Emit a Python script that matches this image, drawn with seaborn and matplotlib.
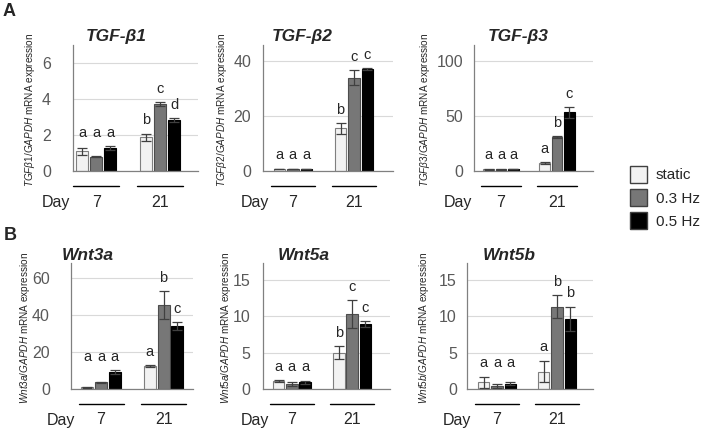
import numpy as np
import pandas as pd
import matplotlib
matplotlib.use("Agg")
import matplotlib.pyplot as plt
import seaborn as sns
from matplotlib.patches import Patch
from matplotlib.transforms import blended_transform_factory

# Data (day-major order: day 7 static, 0.3 Hz, 0.5 Hz, then day 21)
days = ["7", "21"]
conditions = ["static", "0.3 Hz", "0.5 Hz"]

tgfb1_mean = [1.1, 0.8, 1.27, 1.87, 3.73, 2.84]
tgfb1_err = [0.2, 0.03, 0.13, 0.2, 0.1, 0.1]
tgfb1_letters = ["a", "a", "a", "b", "c", "d"]

tgfb2_mean = [0.8, 0.8, 0.8, 15.6, 34.1, 37.3]
tgfb2_err = [0.1, 0.1, 0.1, 2.0, 2.7, 0.3]
tgfb2_letters = ["a", "a", "a", "b", "c", "c"]

tgfb3_mean = [1.5, 1.5, 1.8, 7.0, 31.0, 53.4]
tgfb3_err = [0.2, 0.2, 0.3, 1.0, 1.0, 5.0]
tgfb3_letters = ["a", "a", "a", "a", "b", "c"]

wnt3a_mean = [1.0, 3.6, 9.3, 12.3, 45.4, 34.1]
wnt3a_err = [0.3, 0.3, 1.0, 0.5, 7.6, 2.0]
wnt3a_letters = ["a", "a", "a", "a", "b", "c"]

wnt5a_mean = [1.1, 0.7, 0.9, 5.0, 10.3, 8.9]
wnt5a_err = [0.1, 0.25, 0.2, 0.9, 1.9, 0.45]
wnt5a_letters = ["a", "a", "a", "b", "c", "c"]

wnt5b_mean = [0.9, 0.45, 0.73, 2.4, 11.3, 9.6]
wnt5b_err = [0.8, 0.25, 0.2, 1.5, 1.6, 1.7]
wnt5b_letters = ["a", "a", "a", "a", "b", "b"]

titles = ["TGF-β1", "TGF-β2", "TGF-β3", "Wnt3a", "Wnt5a", "Wnt5b"]
label_genes = ["TGFβ1", "TGFβ2", "TGFβ3", "Wnt3a", "Wnt5a", "Wnt5b"]
yticks_list = [[0, 2, 4, 6], [0, 20, 40], [0, 50, 100],
               [0, 20, 40, 60], [0, 5, 10, 15], [0, 5, 10, 15]]
ymax_list = [7, 46, 115, 68, 17.3, 17.3]

means = [tgfb1_mean, tgfb2_mean, tgfb3_mean, wnt3a_mean, wnt5a_mean, wnt5b_mean]
errs = [tgfb1_err, tgfb2_err, tgfb3_err, wnt3a_err, wnt5a_err, wnt5b_err]
letters = [tgfb1_letters, tgfb2_letters, tgfb3_letters,
           wnt3a_letters, wnt5a_letters, wnt5b_letters]

fill_colors = ["#f2f2f2", "#777777", "#000000"]
edge_colors = ["#7f7f7f", "#4d4d4d", "#000000"]

sns.set_style("white")
plt.rcParams["font.family"] = ["Liberation Sans", "DejaVu Sans"]
plt.rcParams["mathtext.fontset"] = "custom"
plt.rcParams["mathtext.it"] = "Liberation Sans:italic"
plt.rcParams["mathtext.rm"] = "Liberation Sans"

W, H = 708, 429
fig = plt.figure(figsize=(W / 100, H / 100), dpi=100)

# layout in pixels: left, right, top, bottom, xlim, tick pad, ylabel x, "Day" x, title x
layout = [
    (73, 198, 45, 171, (-0.36, 1.59), 22, 30, 56, 116),
    (263, 393, 45, 171, (-0.49, 1.64), 12, 222, 255, 302),
    (474, 593, 45, 171, (-0.48, 1.64), 11, 425, 458, 518),
    (71, 193, 263, 389, (-0.48, 1.47), 21, 25, 61, 88),
    (263, 390, 263, 389, (-0.48, 1.63), 13, 226, 255, 304),
    (467, 593, 263, 389, (-0.5, 1.6), 10, 424, 457, 509),
]

for i, (l, r, t, b, xl, pad, ylx, dayx, tx) in enumerate(layout):
    ax = fig.add_axes([l / W, 1 - b / H, (r - l) / W, (b - t) / H])
    df = pd.DataFrame({
        "day": [d for d in days for _ in conditions],
        "condition": conditions * len(days),
        "value": means[i],
    })
    sns.barplot(data=df, x="day", y="value", hue="condition", order=days,
                hue_order=conditions, palette=fill_colors, width=0.66, gap=0.14,
                errorbar=None, legend=False, ax=ax, zorder=2)

    bar_conts = list(ax.containers)
    tops = {}
    for ci, cont in enumerate(bar_conts):
        for di, bar in enumerate(cont):
            k = di * len(conditions) + ci
            bar.set_edgecolor(edge_colors[ci])
            bar.set_linewidth(0.8)
            xc = bar.get_x() + bar.get_width() / 2
            ax.errorbar(xc, means[i][k], yerr=errs[i][k], fmt="none",
                        ecolor="#404040", elinewidth=0.9, capsize=3.5,
                        capthick=0.9, zorder=3)
            tops[k] = (xc, means[i][k] + errs[i][k])

    # significance letters
    for di in range(len(days)):
        ks = [di * len(conditions) + ci for ci in range(len(conditions))]
        same = len(set(letters[i][k] for k in ks)) == 1
        gmax = max(tops[k][1] for k in ks)
        for k in ks:
            y = gmax if same else tops[k][1]
            ax.annotate(letters[i][k], (tops[k][0], y), xytext=(0, 4.5),
                        textcoords="offset points", ha="center", va="bottom",
                        fontsize=10.5)

    ax.set_xlim(*xl)
    ax.set_ylim(0, ymax_list[i])
    ax.set_yticks(yticks_list[i])
    ax.set_xticks([])
    ax.set_xlabel("")
    ax.set_ylabel("")
    ax.yaxis.grid(True, color="#d9d9d9", linewidth=0.8, zorder=0)
    ax.set_axisbelow(True)
    for s in ["top", "right"]:
        ax.spines[s].set_visible(False)
    for s in ["left", "bottom"]:
        ax.spines[s].set_color("#808080")
        ax.spines[s].set_linewidth(0.9)
    ax.tick_params(axis="y", length=0, pad=pad * 0.72, labelsize=11.5,
                   labelcolor="#595959")

    # group underline + day numbers
    tr = blended_transform_factory(ax.transData, fig.transFigure)
    line_y = 1 - (b + 15) / H
    num_y = 1 - (b + 31) / H
    for di, d in enumerate(days):
        ax.plot([di - 0.36, di + 0.36], [line_y, line_y], transform=tr,
                color="black", lw=1, clip_on=False)
        ax.text(di, num_y, d, transform=tr, ha="center", va="center",
                fontsize=11.5)
    fig.text(dayx / W, num_y, "Day", ha="center", va="center", fontsize=11.5)

    fig.text(tx / W, 1 - (t - 8) / H, titles[i], ha="center", va="center",
             fontsize=12.5, fontweight="bold", fontstyle="italic")
    fig.text(ylx / W, 1 - ((t + b) / 2 + 2) / H,
             "$\\mathit{" + label_genes[i] + "/GAPDH}$ mRNA expression",
             rotation=90, ha="center", va="center", fontsize=7.2)

fig.text(3 / W, 1 - 11 / H, "A", fontsize=13, fontweight="bold",
         ha="left", va="center")
fig.text(4 / W, 1 - 236 / H, "B", fontsize=13, fontweight="bold",
         ha="left", va="center")

handles = [Patch(facecolor=fill_colors[j], edgecolor="#404040", linewidth=1.0)
           for j in range(len(conditions))]
fig.legend(handles, conditions, loc="upper left",
           bbox_to_anchor=(630 / W, 1 - 166 / H), frameon=False,
           fontsize=11, handlelength=1.1, handleheight=1.3,
           handletextpad=0.6, labelspacing=0.42, borderpad=0,
           borderaxespad=0)

fig.savefig("out.png", dpi=100, facecolor="white")
